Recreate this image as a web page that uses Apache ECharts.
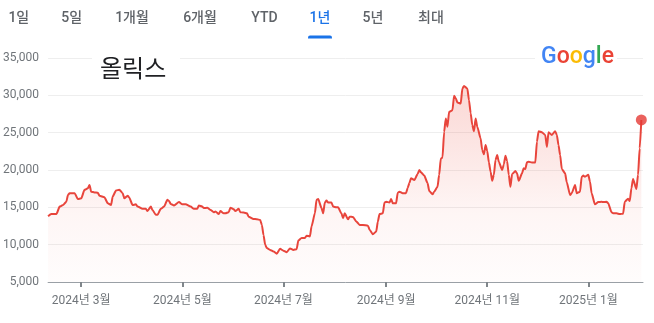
<!DOCTYPE html>
<html><head><meta charset="utf-8">
<script src="https://cdn.jsdelivr.net/npm/echarts@6/dist/echarts.min.js"></script>
<style>html,body{margin:0;padding:0;background:#fff}#c{width:654px;height:323px}</style>
</head><body><div id="c"></div>
<script>
const stockName = '올릭스';
const tabLabels = ['1일', '5일', '1개월', '6개월', 'YTD', '1년', '5년', '최대'];
const activeTab = '1년';
const tickDates = ['2024-03-01', '2024-05-01', '2024-07-01', '2024-09-01', '2024-11-01', '2025-01-01'];
const tickLabels = ['2024년 3월', '2024년 5월', '2024년 7월', '2024년 9월', '2024년 11월', '2025년 1월'];
const yMin = 5000, yMax = 35000, yStep = 5000;
const rangeStart = '2024-02-10', rangeEnd = '2025-02-03';

const priceData = [
  ['2024-02-10',13800],['2024-02-12',14100],['2024-02-15',14100],['2024-02-17',15100],['2024-02-19',15300],['2024-02-21',15750],['2024-02-22',16650],['2024-02-23',16900],['2024-02-26',16900],['2024-02-28',16100],
  ['2024-03-01',16200],['2024-03-03',17350],['2024-03-05',17550],['2024-03-06',18000],['2024-03-07',17100],['2024-03-09',17000],['2024-03-11',16950],['2024-03-12',16550],['2024-03-15',16350],['2024-03-17',15550],['2024-03-19',15300],['2024-03-20',16450],['2024-03-22',17250],['2024-03-24',17350],['2024-03-26',16900],['2024-03-27',16200],['2024-03-29',16550],['2024-03-30',16300],
  ['2024-04-01',15300],['2024-04-03',15400],['2024-04-04',15100],['2024-04-07',14800],['2024-04-09',14800],['2024-04-10',14500],['2024-04-12',15100],['2024-04-13',14650],['2024-04-15',14000],['2024-04-16',14000],['2024-04-18',14800],['2024-04-20',15100],['2024-04-22',16000],['2024-04-23',15850],['2024-04-24',15450],['2024-04-26',15250],['2024-04-29',15700],
  ['2024-05-01',15400],['2024-05-03',15400],['2024-05-06',15100],['2024-05-08',14800],['2024-05-10',14800],['2024-05-11',15250],['2024-05-13',15100],['2024-05-14',14900],['2024-05-16',14950],['2024-05-18',14650],['2024-05-20',14350],['2024-05-21',14450],['2024-05-23',14100],['2024-05-24',14500],['2024-05-26',14200],['2024-05-27',14200],['2024-05-29',14350],['2024-05-30',14950],
  ['2024-06-01',14750],['2024-06-02',14500],['2024-06-04',14800],['2024-06-05',14350],['2024-06-07',14300],['2024-06-09',14200],['2024-06-10',13750],['2024-06-13',13450],['2024-06-15',13400],['2024-06-17',13300],['2024-06-18',12650],['2024-06-19',11300],['2024-06-20',10000],['2024-06-21',9550],['2024-06-23',9300],['2024-06-25',9100],['2024-06-27',8800],['2024-06-29',9450],
  ['2024-07-01',9200],['2024-07-03',9000],['2024-07-05',9500],['2024-07-07',9300],['2024-07-09',9400],['2024-07-10',10550],['2024-07-12',10900],['2024-07-14',10900],['2024-07-15',11200],['2024-07-17',11100],['2024-07-18',12450],['2024-07-20',14200],['2024-07-21',16000],['2024-07-22',16100],['2024-07-24',14900],['2024-07-25',14200],['2024-07-26',15650],['2024-07-27',15900],['2024-07-28',15650],['2024-07-30',15650],['2024-07-31',15100],
  ['2024-08-02',15000],['2024-08-03',15000],['2024-08-05',14200],['2024-08-06',13550],['2024-08-07',14200],['2024-08-09',13400],['2024-08-10',13750],['2024-08-12',13700],['2024-08-14',13100],['2024-08-16',12650],['2024-08-18',12650],['2024-08-21',12550],['2024-08-22',12000],['2024-08-24',11400],['2024-08-26',11750],['2024-08-27',13100],['2024-08-28',14100],['2024-08-30',14200],['2024-08-31',15650],
  ['2024-09-01',15750],['2024-09-03',15650],['2024-09-04',16100],['2024-09-05',15550],['2024-09-07',15550],['2024-09-08',16950],['2024-09-09',17100],['2024-09-11',16900],['2024-09-13',16900],['2024-09-14',17600],['2024-09-15',18250],['2024-09-16',18900],['2024-09-18',18650],['2024-09-20',19450],['2024-09-21',20000],['2024-09-22',19700],['2024-09-24',19250],['2024-09-26',18250],['2024-09-27',17200],['2024-09-29',16750],['2024-09-30',17100],
  ['2024-10-02',17750],['2024-10-03',19350],['2024-10-04',21550],['2024-10-05',21650],['2024-10-06',25100],['2024-10-07',26900],['2024-10-08',25800],['2024-10-09',27800],['2024-10-11',28000],['2024-10-12',29950],['2024-10-13',29600],['2024-10-14',29050],['2024-10-16',28900],['2024-10-17',30900],['2024-10-18',31250],['2024-10-20',30900],['2024-10-21',29350],['2024-10-22',27600],['2024-10-23',26000],['2024-10-24',25200],['2024-10-25',26900],['2024-10-26',25800],['2024-10-28',24250],['2024-10-29',22650],['2024-10-30',22100],['2024-10-31',23350],
  ['2024-11-01',22550],['2024-11-02',21050],['2024-11-03',19800],['2024-11-04',18550],['2024-11-05',19350],['2024-11-06',21350],['2024-11-07',22000],['2024-11-08',21100],['2024-11-10',20000],['2024-11-11',20750],['2024-11-12',21900],['2024-11-13',21200],['2024-11-14',19350],['2024-11-15',17750],['2024-11-16',19450],['2024-11-18',19850],['2024-11-19',19550],['2024-11-20',18550],['2024-11-22',19550],['2024-11-23',20250],['2024-11-24',20150],['2024-11-25',21050],['2024-11-26',21100],['2024-11-28',21000],['2024-11-30',21000],
  ['2024-12-01',23800],['2024-12-02',25200],['2024-12-04',25050],['2024-12-06',24700],['2024-12-07',23100],['2024-12-08',25050],['2024-12-10',24700],['2024-12-12',25200],['2024-12-13',24700],['2024-12-14',23350],['2024-12-15',22000],['2024-12-16',20150],['2024-12-18',19550],['2024-12-19',18350],['2024-12-21',16650],['2024-12-22',16900],['2024-12-24',18000],['2024-12-25',16900],['2024-12-27',17100],['2024-12-28',19100],['2024-12-29',19250],['2024-12-30',19100],
  ['2025-01-01',19350],['2025-01-02',18450],['2025-01-03',16900],['2025-01-05',15400],['2025-01-07',15700],['2025-01-09',15750],['2025-01-10',15700],['2025-01-12',15750],['2025-01-13',15550],['2025-01-15',14350],['2025-01-16',14200],['2025-01-18',14200],['2025-01-20',14100],['2025-01-22',14150],['2025-01-23',15750],['2025-01-25',16150],['2025-01-26',15850],['2025-01-27',17550],['2025-01-28',18800],['2025-01-30',17450],['2025-01-31',19350],
  ['2025-02-01',22900],['2025-02-02',26700]
];

// layout (not data)
const tabX = [18.8, 71.7, 132, 200, 264.5, 320, 373, 431];
const FONT = 'Roboto, "Noto Sans CJK KR", sans-serif';

function ts(s) { return new Date(s + 'T00:00:00').getTime(); }
const tickTs = tickDates.map(ts);
const lastPoint = priceData[priceData.length - 1];

const graphics = [];
tabLabels.forEach((t, i) => {
  const active = t === activeTab;
  graphics.push({
    type: 'text', x: tabX[i], y: 18.5, z: 100,
    style: {
      text: t, fill: active ? '#1a73e8' : '#5f6368',
      font: '500 14px ' + FONT,
      align: 'center', verticalAlign: 'middle'
    }
  });
  if (active) {
    graphics.push({ type: 'rect', z: 100, shape: { x: tabX[i] - 12, y: 35.5, width: 24, height: 3, r: [2, 2, 0, 0] }, style: { fill: '#1a73e8' } });
  }
});
graphics.push({ type: 'rect', z: 90, shape: { x: 92, y: 52, width: 88, height: 12 }, style: { fill: '#fff' } });
graphics.push({ type: 'rect', z: 90, shape: { x: 535, y: 52, width: 82, height: 12 }, style: { fill: '#fff' } });
graphics.push({
  type: 'text', x: 100, y: 67.5, z: 100,
  style: { text: stockName, fill: '#202124', font: '24px "Noto Sans CJK KR", sans-serif',
    align: 'left', verticalAlign: 'middle' }
});
graphics.push({
  type: 'text', x: 541, y: 57, z: 100,
  style: {
    text: '{b|G}{r|o}{y|o}{b|g}{g|l}{r|e}',
    font: '500 23px Roboto, sans-serif',
    align: 'left', verticalAlign: 'middle',
    rich: {
      b: { fill: '#4285F4', font: '500 23px Roboto, sans-serif' },
      r: { fill: '#EA4335', font: '500 23px Roboto, sans-serif' },
      y: { fill: '#FBBC05', font: '500 23px Roboto, sans-serif' },
      g: { fill: '#34A853', font: '500 23px Roboto, sans-serif' }
    }
  }
});

const chart = echarts.init(document.getElementById('c'), null, { renderer: 'canvas' });
chart.setOption({
  animation: false,
  backgroundColor: '#fff',
  grid: { left: 47, right: 11, top: 58, bottom: 41 },
  xAxis: {
    type: 'value', min: ts(rangeStart), max: ts(rangeEnd),
    axisLine: { onZero: false, lineStyle: { color: '#9aa0a6', width: 1 } },
    axisTick: { show: true, customValues: tickTs, length: 5, lineStyle: { color: '#80868b', width: 2 } },
    axisLabel: {
      customValues: tickTs, color: '#70757a', fontSize: 12, fontFamily: FONT, margin: 13,
      formatter: function (v) { const i = tickTs.indexOf(v); return i >= 0 ? tickLabels[i] : ''; }
    },
    splitLine: { show: false }
  },
  yAxis: {
    type: 'value', min: yMin, max: yMax, interval: yStep,
    axisLine: { show: false }, axisTick: { show: false },
    axisLabel: { color: '#70757a', fontSize: 12, fontFamily: FONT, margin: 9,
      formatter: function (v) { return v.toLocaleString('en-US'); } },
    splitLine: { lineStyle: { color: '#eeeeee', width: 1 } }
  },
  series: [
    {
      type: 'line', data: priceData.map(d => [ts(d[0]), d[1]]),
      showSymbol: false, smooth: 0.2, smoothMonotone: 'x',
      lineStyle: { color: '#e8453c', width: 2 },
      areaStyle: {
        color: new echarts.graphic.LinearGradient(0, 0, 0, 1, [
          { offset: 0, color: 'rgba(234,67,53,0.30)' },
          { offset: 0.65, color: 'rgba(234,67,53,0.07)' },
          { offset: 1, color: 'rgba(234,67,53,0.02)' }
        ])
      },
      z: 3
    },
    {
      type: 'scatter', data: [[ts(lastPoint[0]), lastPoint[1]]],
      symbolSize: 11, itemStyle: { color: '#e53935' }, z: 4
    }
  ],
  graphic: graphics
});
</script></body></html>
